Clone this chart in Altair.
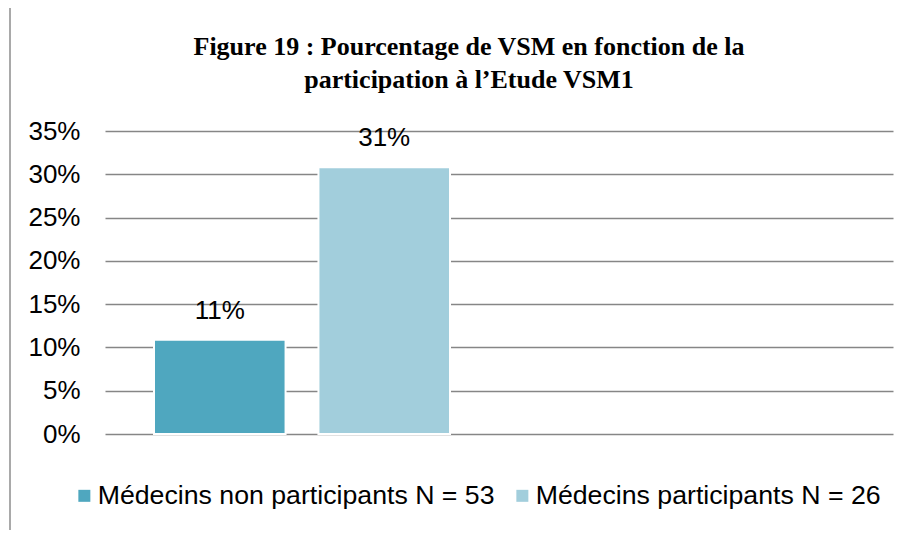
import altair as alt
import pandas as pd

series = ["Médecins non participants N = 53", "Médecins participants N = 26"]
groupe = ["Etude VSM1", "Etude VSM1"]
groupe_domain = ["Etude VSM1", " "]
values = [0.109, 0.308]
colors = ["#4FA7BF", "#A2CEDC"]
title_lines = ["Figure 19 : Pourcentage de VSM en fonction de la",
               "participation à l\u2019Etude VSM1"]
y_ticks = [0, 0.05, 0.10, 0.15, 0.20, 0.25, 0.30, 0.35]

df = pd.DataFrame({"groupe": groupe, "serie": series, "valeur": values})

FONT = "Liberation Sans"

base = alt.Chart(df)

x_enc = alt.X("groupe:N", scale=alt.Scale(domain=groupe_domain, paddingInner=0, paddingOuter=0),
              axis=None)
xo_enc = alt.XOffset("serie:N", sort=series,
                     scale=alt.Scale(paddingInner=0.2, paddingOuter=0.298))

bars = base.mark_bar(stroke="white", strokeWidth=2).encode(
    x=x_enc,
    xOffset=xo_enc,
    y=alt.Y("valeur:Q",
            scale=alt.Scale(domain=[0, 0.35], nice=False),
            axis=alt.Axis(values=y_ticks, format=".0%", title=None,
                          domain=False, ticks=False, labelPadding=25,
                          labelFont=FONT, labelFontSize=26, labelColor="black",
                          grid=True, gridColor="#868686", gridWidth=1.5)),
    color=alt.Color("serie:N", sort=series,
                    scale=alt.Scale(domain=series, range=colors),
                    legend=alt.Legend(title=None, orient="none", direction="horizontal",
                                      legendX=-34, legendY=351,
                                      symbolType="square", symbolSize=144,
                                      symbolStrokeWidth=0, labelLimit=0,
                                      labelFont=FONT, labelFontSize=26.7,
                                      labelColor="black", labelOffset=0,
                                      columnPadding=14)),
)

labels = base.mark_text(font=FONT, fontSize=26, color="black",
                        baseline="alphabetic", dy=-21).encode(
    x=x_enc,
    xOffset=xo_enc,
    y=alt.Y("valeur:Q"),
    text=alt.Text("valeur:Q", format=".0%"),
)

one = pd.DataFrame({"k": [0]})
frame_left = alt.Chart(one).mark_rule(color="#8c8c8c", strokeWidth=1.5).encode(
    x=alt.value(-95), y=alt.value(-127), y2=alt.value(420))
frame_top = alt.Chart(one).mark_rule(color="#8c8c8c", strokeWidth=1.5).encode(
    x=alt.value(-95), x2=alt.value(820), y=alt.value(-127))

title1 = alt.Chart(one).mark_text(text=title_lines[0], font="Liberation Serif",
                                  fontWeight="bold", fontSize=26, color="black",
                                  align="center", baseline="alphabetic").encode(
    x=alt.value(364), y=alt.value(-76))
title2 = alt.Chart(one).mark_text(text=title_lines[1], font="Liberation Serif",
                                  fontWeight="bold", fontSize=26, color="black",
                                  align="center", baseline="alphabetic").encode(
    x=alt.value(364), y=alt.value(-43))

chart = alt.layer(frame_left, frame_top, title1, title2, bars, labels).properties(
    width=788, height=303,
    padding={"left": 97, "top": 123, "right": 13, "bottom": 96},
    autosize=alt.AutoSizeParams(type="none"),
    background="white",
).configure_view(stroke=None)

chart.save("out.html", embed_options={"renderer": "svg", "actions": False})
